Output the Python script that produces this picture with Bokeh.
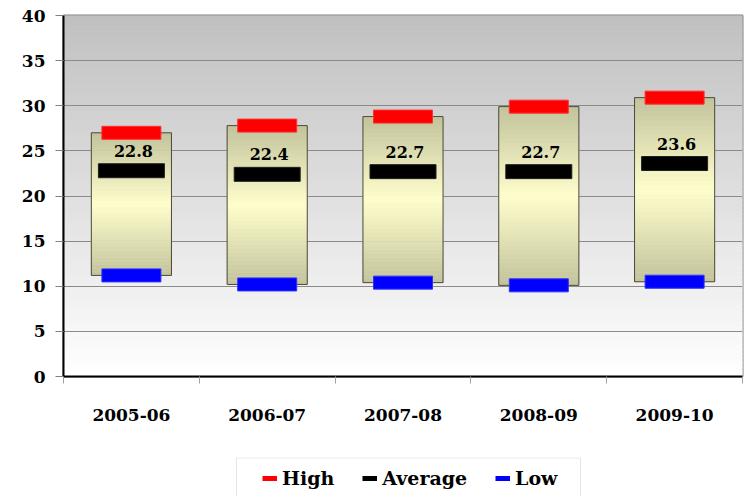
import numpy as np
from bokeh.plotting import figure
from bokeh.layouts import column
from bokeh.models import Range1d, FixedTicker, Legend, LegendItem, BoxAnnotation
from bokeh.core.properties import value
from bokeh.embed import file_html
from bokeh.resources import INLINE

categories = ["2005-06", "2006-07", "2007-08", "2008-09", "2009-10"]
high = [27.0, 27.8, 28.8, 29.9, 30.9]
average = [22.8, 22.4, 22.7, 22.7, 23.6]
low = [11.2, 10.2, 10.4, 10.1, 10.5]
y_ticks = [0, 5, 10, 15, 20, 25, 30, 35, 40]
series_names = ["High", "Average", "Low"]
series_colors = ["#ff0000", "#000000", "#0000ff"]

FONT = "DejaVu Serif"

W = 744
H_MAIN = 457
H_LEG = 39
FRAME_LEFT = 63

p = figure(width=W, height=H_MAIN, output_backend="svg", toolbar_location=None,
           x_range=Range1d(0, len(categories)), y_range=Range1d(0, 40),
           min_border_left=FRAME_LEFT, min_border_right=2, min_border_top=15,
           min_border_bottom=81)
p.background_fill_color = "white"
p.border_fill_color = "white"
p.outline_line_color = "#808080"
p.outline_line_width = 2

# plot-area background gradient (grey at top -> white at bottom)
n_bg = 80
edges = np.linspace(0, 40, n_bg + 1)
c_top = np.array([192, 192, 192])
c_bot = np.array([255, 255, 255])
bg_colors = []
for i in range(n_bg):
    t = (edges[i] + edges[i + 1]) / 2 / 40
    c = c_bot + (c_top - c_bot) * t
    bg_colors.append("#%02x%02x%02x" % tuple(int(round(v)) for v in c))
p.quad(left=0, right=len(categories), bottom=edges[:-1], top=edges[1:],
       fill_color=bg_colors, line_color=bg_colors, line_width=1, level="image")

# grid
p.xgrid.grid_line_color = None
p.ygrid.ticker = FixedTicker(ticks=y_ticks)
p.ygrid.grid_line_color = "#8a8a8a"
p.ygrid.grid_line_width = 1

x = np.arange(len(categories)) + 0.5
box_w = 0.59

# gradient boxes from low to high (olive -> pale yellow -> olive)
olive = np.array([194, 194, 156])
pale = np.array([255, 255, 204])
n_sl = 40
L, R, B, T, C = [], [], [], [], []
for xi, lo, hi in zip(x, low, high):
    e = np.linspace(lo, hi, n_sl + 1)
    for j in range(n_sl):
        t = (j + 0.5) / n_sl
        f = 1 - abs(2 * t - 1)
        c = olive + (pale - olive) * f
        L.append(xi - box_w / 2); R.append(xi + box_w / 2)
        B.append(e[j]); T.append(e[j + 1])
        C.append("#%02x%02x%02x" % tuple(int(round(v)) for v in c))
p.quad(left=L, right=R, bottom=B, top=T, fill_color=C, line_color=C, line_width=0.5)
p.quad(left=x - box_w / 2, right=x + box_w / 2, bottom=low, top=high,
       fill_color=None, line_color="#4a4a3a", line_width=1)

# markers
p.rect(x=x, y=high, width=59, height=13, width_units="screen", height_units="screen",
       fill_color=series_colors[0], line_color="#ff3030", line_width=1)
p.rect(x=x, y=low, width=59, height=13, width_units="screen", height_units="screen",
       fill_color=series_colors[2], line_color="#3030ff", line_width=1)
p.rect(x=x, y=average, width=66, height=14, width_units="screen", height_units="screen",
       fill_color=series_colors[1], line_color="#202020", line_width=1)

# value labels
p.text(x=x, y=average, text=[f"{v:.1f}" for v in average], x_offset=2, y_offset=-20,
       text_align="center", text_baseline="middle",
       text_font=value(FONT), text_font_style="bold", text_font_size="16px",
       text_color="black")

# axes
p.yaxis.ticker = FixedTicker(ticks=y_ticks)
p.yaxis.axis_line_color = "black"
p.yaxis.axis_line_width = 2
p.yaxis.major_tick_out = 8
p.yaxis.major_tick_in = 0
p.yaxis.major_tick_line_color = "#808080"
p.yaxis.minor_tick_line_color = None
p.yaxis.major_label_standoff = 10
p.yaxis.major_label_text_font = FONT
p.yaxis.major_label_text_font_style = "bold"
p.yaxis.major_label_text_font_size = "17px"
p.yaxis.major_label_text_color = "black"

p.xaxis.ticker = FixedTicker(ticks=list(x), minor_ticks=list(range(len(categories) + 1)))
p.xaxis.major_label_overrides = {float(xi): c for xi, c in zip(x, categories)}
p.xaxis.axis_line_color = "black"
p.xaxis.axis_line_width = 2
p.xaxis.major_tick_out = 0
p.xaxis.major_tick_in = 0
p.xaxis.minor_tick_out = 7
p.xaxis.minor_tick_in = 0
p.xaxis.minor_tick_line_color = "#a0a0a0"
p.xaxis.major_label_standoff = 25
p.xaxis.major_label_text_font = FONT
p.xaxis.major_label_text_font_style = "bold"
p.xaxis.major_label_text_font_size = "17px"
p.xaxis.major_label_text_color = "black"

# legend strip (separate figure; its frame is aligned with the main frame)
q = figure(width=W, height=H_LEG, output_backend="svg", toolbar_location=None,
           x_range=Range1d(0, 1), y_range=Range1d(0, 1),
           x_axis_type=None, y_axis_type=None,
           min_border_left=0, min_border_right=0, min_border_top=0, min_border_bottom=0)
q.outline_line_color = None
q.grid.grid_line_color = None
q.background_fill_color = "white"
q.border_fill_color = "white"

# legend proxies (their data lie outside this strip's ranges)
proxies = []
for vals, col in zip([high, average, low], series_colors):
    proxies.append(q.line(x=x, y=vals, line_color=col, line_width=5))

q.add_layout(BoxAnnotation(left=236 - FRAME_LEFT, right=580 - FRAME_LEFT,
                           top=H_LEG - 0.5, bottom=-20,
                           left_units="screen", right_units="screen",
                           top_units="screen", bottom_units="screen",
                           fill_color="white", fill_alpha=1,
                           line_color="#aaaaaa", line_width=1, level="underlay"))

legend = Legend(items=[LegendItem(label=n, renderers=[r]) for n, r in zip(series_names, proxies)],
                orientation="horizontal", location=(263 - FRAME_LEFT - 1, 7),
                padding=6, spacing=28, margin=0,
                glyph_width=15, glyph_height=20, label_standoff=5,
                label_text_font=FONT, label_text_font_style="bold",
                label_text_font_size="19px", label_text_color="black",
                border_line_color=None, background_fill_alpha=0)
q.add_layout(legend, "center")

layout = column(p, q, spacing=0)
open("out.html", "w").write(file_html(layout, INLINE))
